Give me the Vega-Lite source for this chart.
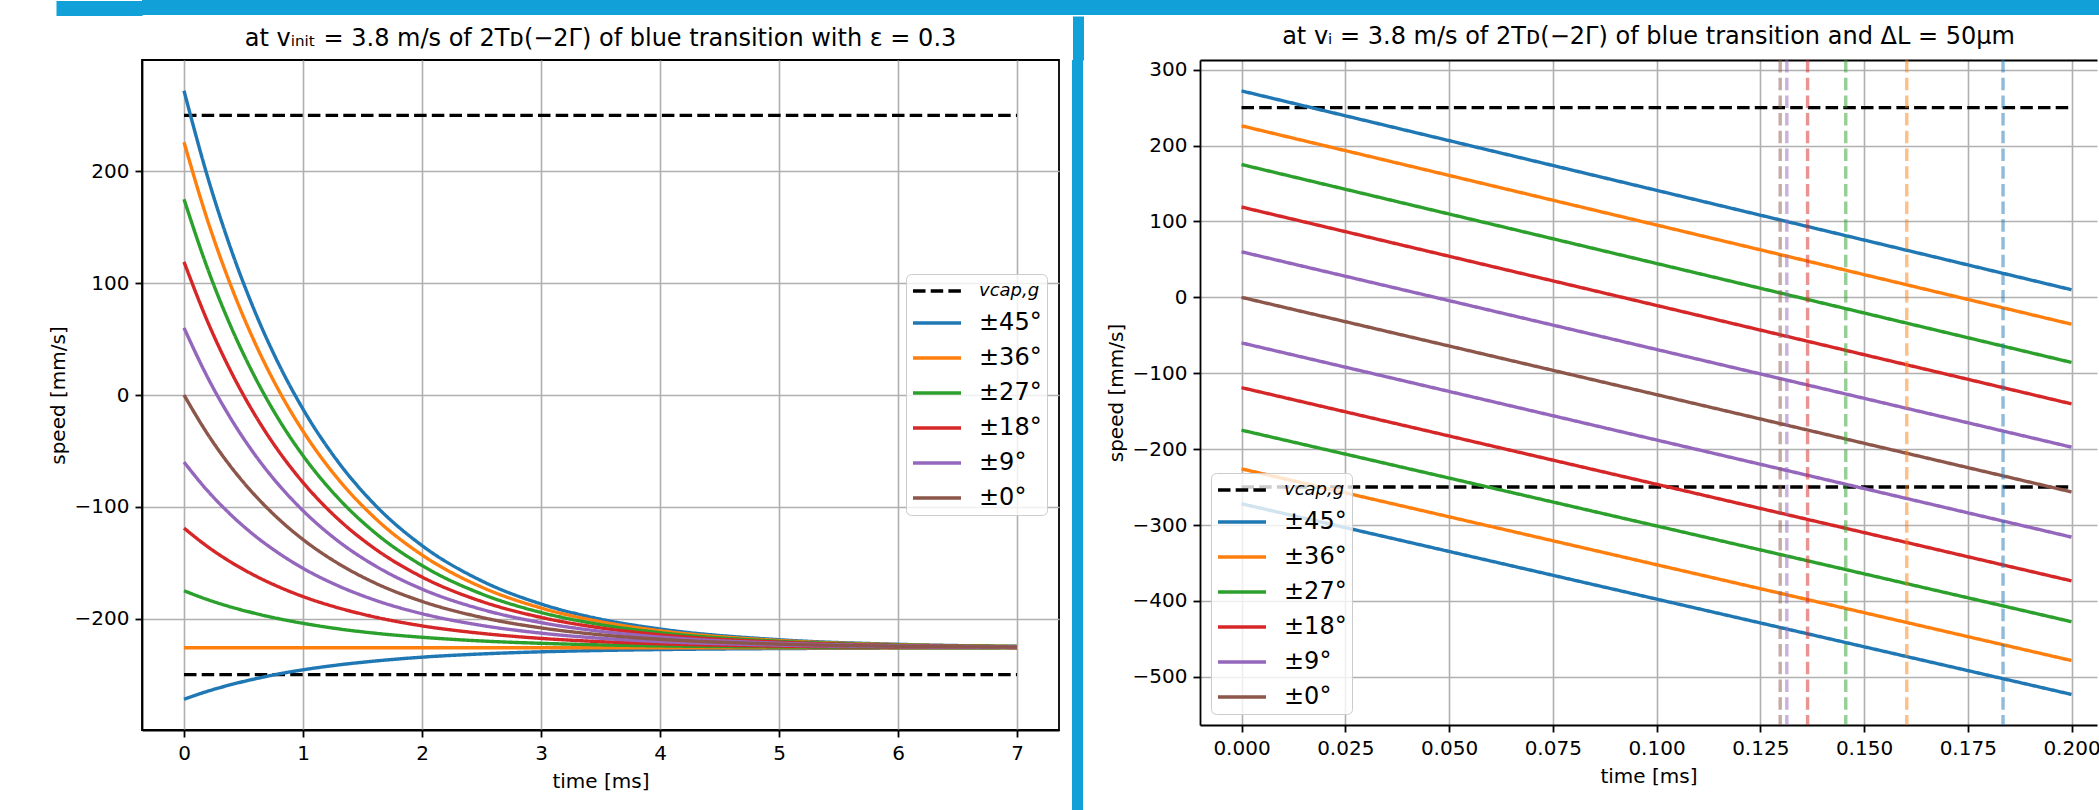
{
  "$schema": "https://vega.github.io/schema/vega-lite/v6.json",
  "background": "white",
  "padding": {"left": 47, "top": 0, "right": 0, "bottom": 0},
  "datasets": {
    "L": [
      {"s":"vcap,g","b":"u","t":0,"v":250},{"s":"vcap,g","b":"u","t":7,"v":250},
      {"s":"vcap,g","b":"l","t":0,"v":-250},{"s":"vcap,g","b":"l","t":7,"v":-250},
      {"s":"±45°","b":"u","t":0,"v":272},{"s":"±45°","b":"u","t":0.2,"v":194.4},{"s":"±45°","b":"u","t":0.4,"v":128.8},{"s":"±45°","b":"u","t":0.6,"v":73.5},{"s":"±45°","b":"u","t":0.8,"v":26.8},{"s":"±45°","b":"u","t":1,"v":-12.6},{"s":"±45°","b":"u","t":1.3,"v":-60.5},{"s":"±45°","b":"u","t":1.6,"v":-97.7},{"s":"±45°","b":"u","t":2,"v":-134.6},{"s":"±45°","b":"u","t":2.5,"v":-166.1},{"s":"±45°","b":"u","t":3,"v":-186.8},{"s":"±45°","b":"u","t":3.5,"v":-200.4},{"s":"±45°","b":"u","t":4,"v":-209.2},{"s":"±45°","b":"u","t":5,"v":-218.8},{"s":"±45°","b":"u","t":6,"v":-222.9},{"s":"±45°","b":"u","t":7,"v":-224.7},
      {"s":"±45°","b":"l","t":0,"v":-272},{"s":"±45°","b":"l","t":0.2,"v":-264.8},{"s":"±45°","b":"l","t":0.4,"v":-258.8},{"s":"±45°","b":"l","t":0.6,"v":-253.7},{"s":"±45°","b":"l","t":0.8,"v":-249.3},{"s":"±45°","b":"l","t":1,"v":-245.7},{"s":"±45°","b":"l","t":1.3,"v":-241.3},{"s":"±45°","b":"l","t":1.6,"v":-237.9},{"s":"±45°","b":"l","t":2,"v":-234.4},{"s":"±45°","b":"l","t":2.5,"v":-231.5},{"s":"±45°","b":"l","t":3,"v":-229.6},{"s":"±45°","b":"l","t":3.5,"v":-228.4},{"s":"±45°","b":"l","t":4,"v":-227.6},{"s":"±45°","b":"l","t":5,"v":-226.7},{"s":"±45°","b":"l","t":6,"v":-226.3},{"s":"±45°","b":"l","t":7,"v":-226.1},
      {"s":"±36°","b":"u","t":0,"v":226},{"s":"±36°","b":"u","t":0.2,"v":155.5},{"s":"±36°","b":"u","t":0.4,"v":96.1},{"s":"±36°","b":"u","t":0.6,"v":45.8},{"s":"±36°","b":"u","t":0.8,"v":3.4},{"s":"±36°","b":"u","t":1,"v":-32.3},{"s":"±36°","b":"u","t":1.3,"v":-75.8},{"s":"±36°","b":"u","t":1.6,"v":-109.5},{"s":"±36°","b":"u","t":2,"v":-143},{"s":"±36°","b":"u","t":2.5,"v":-171.7},{"s":"±36°","b":"u","t":3,"v":-190.4},{"s":"±36°","b":"u","t":3.5,"v":-202.7},{"s":"±36°","b":"u","t":4,"v":-210.8},{"s":"±36°","b":"u","t":5,"v":-219.5},{"s":"±36°","b":"u","t":6,"v":-223.2},{"s":"±36°","b":"u","t":7,"v":-224.8},
      {"s":"±36°","b":"l","t":0,"v":-226},{"s":"±36°","b":"l","t":7,"v":-226},
      {"s":"±27°","b":"u","t":0,"v":175},{"s":"±27°","b":"u","t":0.2,"v":112.5},{"s":"±27°","b":"u","t":0.4,"v":59.7},{"s":"±27°","b":"u","t":0.6,"v":15.2},{"s":"±27°","b":"u","t":0.8,"v":-22.5},{"s":"±27°","b":"u","t":1,"v":-54.2},{"s":"±27°","b":"u","t":1.3,"v":-92.7},{"s":"±27°","b":"u","t":1.6,"v":-122.7},{"s":"±27°","b":"u","t":2,"v":-152.4},{"s":"±27°","b":"u","t":2.5,"v":-177.8},{"s":"±27°","b":"u","t":3,"v":-194.4},{"s":"±27°","b":"u","t":3.5,"v":-205.3},{"s":"±27°","b":"u","t":4,"v":-212.5},{"s":"±27°","b":"u","t":5,"v":-220.2},{"s":"±27°","b":"u","t":6,"v":-223.5},{"s":"±27°","b":"u","t":7,"v":-224.9},
      {"s":"±27°","b":"l","t":0,"v":-175},{"s":"±27°","b":"l","t":0.2,"v":-183},{"s":"±27°","b":"l","t":0.4,"v":-189.7},{"s":"±27°","b":"l","t":0.6,"v":-195.3},{"s":"±27°","b":"l","t":0.8,"v":-200.1},{"s":"±27°","b":"l","t":1,"v":-204.1},{"s":"±27°","b":"l","t":1.3,"v":-209.1},{"s":"±27°","b":"l","t":1.6,"v":-212.9},{"s":"±27°","b":"l","t":2,"v":-216.6},{"s":"±27°","b":"l","t":2.5,"v":-219.9},{"s":"±27°","b":"l","t":3,"v":-222},{"s":"±27°","b":"l","t":3.5,"v":-223.4},{"s":"±27°","b":"l","t":4,"v":-224.3},{"s":"±27°","b":"l","t":5,"v":-225.3},{"s":"±27°","b":"l","t":6,"v":-225.7},{"s":"±27°","b":"l","t":7,"v":-225.9},
      {"s":"±18°","b":"u","t":0,"v":119},{"s":"±18°","b":"u","t":0.2,"v":65.2},{"s":"±18°","b":"u","t":0.4,"v":19.8},{"s":"±18°","b":"u","t":0.6,"v":-18.5},{"s":"±18°","b":"u","t":0.8,"v":-50.9},{"s":"±18°","b":"u","t":1,"v":-78.2},{"s":"±18°","b":"u","t":1.3,"v":-111.4},{"s":"±18°","b":"u","t":1.6,"v":-137.1},{"s":"±18°","b":"u","t":2,"v":-162.7},{"s":"±18°","b":"u","t":2.5,"v":-184.5},{"s":"±18°","b":"u","t":3,"v":-198.8},{"s":"±18°","b":"u","t":3.5,"v":-208.2},{"s":"±18°","b":"u","t":4,"v":-214.4},{"s":"±18°","b":"u","t":5,"v":-221},{"s":"±18°","b":"u","t":6,"v":-223.9},{"s":"±18°","b":"u","t":7,"v":-225.1},
      {"s":"±18°","b":"l","t":0,"v":-119},{"s":"±18°","b":"l","t":0.2,"v":-135.7},{"s":"±18°","b":"l","t":0.4,"v":-149.8},{"s":"±18°","b":"l","t":0.6,"v":-161.7},{"s":"±18°","b":"l","t":0.8,"v":-171.7},{"s":"±18°","b":"l","t":1,"v":-180.2},{"s":"±18°","b":"l","t":1.3,"v":-190.4},{"s":"±18°","b":"l","t":1.6,"v":-198.4},{"s":"±18°","b":"l","t":2,"v":-206.4},{"s":"±18°","b":"l","t":2.5,"v":-213.1},{"s":"±18°","b":"l","t":3,"v":-217.6},{"s":"±18°","b":"l","t":3.5,"v":-220.5},{"s":"±18°","b":"l","t":4,"v":-222.4},{"s":"±18°","b":"l","t":5,"v":-224.5},{"s":"±18°","b":"l","t":6,"v":-225.3},{"s":"±18°","b":"l","t":7,"v":-225.7},
      {"s":"±9°","b":"u","t":0,"v":60},{"s":"±9°","b":"u","t":0.2,"v":15.4},{"s":"±9°","b":"u","t":0.4,"v":-22.2},{"s":"±9°","b":"u","t":0.6,"v":-54},{"s":"±9°","b":"u","t":0.8,"v":-80.8},{"s":"±9°","b":"u","t":1,"v":-103.4},{"s":"±9°","b":"u","t":1.3,"v":-131},{"s":"±9°","b":"u","t":1.6,"v":-152.3},{"s":"±9°","b":"u","t":2,"v":-173.5},{"s":"±9°","b":"u","t":2.5,"v":-191.6},{"s":"±9°","b":"u","t":3,"v":-203.5},{"s":"±9°","b":"u","t":3.5,"v":-211.3},{"s":"±9°","b":"u","t":4,"v":-216.4},{"s":"±9°","b":"u","t":5,"v":-221.9},{"s":"±9°","b":"u","t":6,"v":-224.2},{"s":"±9°","b":"u","t":7,"v":-225.2},
      {"s":"±9°","b":"l","t":0,"v":-60},{"s":"±9°","b":"l","t":0.2,"v":-85.9},{"s":"±9°","b":"l","t":0.4,"v":-107.7},{"s":"±9°","b":"l","t":0.6,"v":-126.2},{"s":"±9°","b":"l","t":0.8,"v":-141.7},{"s":"±9°","b":"l","t":1,"v":-154.9},{"s":"±9°","b":"l","t":1.3,"v":-170.8},{"s":"±9°","b":"l","t":1.6,"v":-183.2},{"s":"±9°","b":"l","t":2,"v":-195.5},{"s":"±9°","b":"l","t":2.5,"v":-206},{"s":"±9°","b":"l","t":3,"v":-212.9},{"s":"±9°","b":"l","t":3.5,"v":-217.5},{"s":"±9°","b":"l","t":4,"v":-220.4},{"s":"±9°","b":"l","t":5,"v":-223.6},{"s":"±9°","b":"l","t":6,"v":-225},{"s":"±9°","b":"l","t":7,"v":-225.6},
      {"s":"±0°","b":"u","t":0,"v":0},{"s":"±0°","b":"u","t":0.2,"v":-35.2},{"s":"±0°","b":"u","t":0.4,"v":-65},{"s":"±0°","b":"u","t":0.6,"v":-90.1},{"s":"±0°","b":"u","t":0.8,"v":-111.3},{"s":"±0°","b":"u","t":1,"v":-129.2},{"s":"±0°","b":"u","t":1.3,"v":-150.9},{"s":"±0°","b":"u","t":1.6,"v":-167.8},{"s":"±0°","b":"u","t":2,"v":-184.5},{"s":"±0°","b":"u","t":2.5,"v":-198.8},{"s":"±0°","b":"u","t":3,"v":-208.2},{"s":"±0°","b":"u","t":3.5,"v":-214.4},{"s":"±0°","b":"u","t":4,"v":-218.4},{"s":"±0°","b":"u","t":5,"v":-222.7},{"s":"±0°","b":"u","t":6,"v":-224.6},{"s":"±0°","b":"u","t":7,"v":-225.4}
    ],
    "R": [
      {"s":"vcap,g","b":"u","t":0,"v":250},{"s":"vcap,g","b":"u","t":0.2,"v":250},
      {"s":"vcap,g","b":"l","t":0,"v":-250},{"s":"vcap,g","b":"l","t":0.2,"v":-250},
      {"s":"±45°","b":"u","t":0,"v":272},{"s":"±45°","b":"u","t":0.2,"v":10},
      {"s":"±45°","b":"l","t":0,"v":-272},{"s":"±45°","b":"l","t":0.2,"v":-523.2},
      {"s":"±36°","b":"u","t":0,"v":226},{"s":"±36°","b":"u","t":0.2,"v":-35.4},
      {"s":"±36°","b":"l","t":0,"v":-226},{"s":"±36°","b":"l","t":0.2,"v":-478.6},
      {"s":"±27°","b":"u","t":0,"v":175},{"s":"±27°","b":"u","t":0.2,"v":-85.8},
      {"s":"±27°","b":"l","t":0,"v":-175},{"s":"±27°","b":"l","t":0.2,"v":-427.4},
      {"s":"±18°","b":"u","t":0,"v":119},{"s":"±18°","b":"u","t":0.2,"v":-140.4},
      {"s":"±18°","b":"l","t":0,"v":-119},{"s":"±18°","b":"l","t":0.2,"v":-373.6},
      {"s":"±9°","b":"u","t":0,"v":60},{"s":"±9°","b":"u","t":0.2,"v":-197.4},
      {"s":"±9°","b":"l","t":0,"v":-60},{"s":"±9°","b":"l","t":0.2,"v":-315.9},
      {"s":"±0°","b":"u","t":0,"v":0},{"s":"±0°","b":"u","t":0.2,"v":-256.4}
    ],
    "RV": [
      {"s":"±45°","t":0.1835},{"s":"±36°","t":0.1603},{"s":"±27°","t":0.1456},
      {"s":"±18°","t":0.1364},{"s":"±9°","t":0.1314},{"s":"±0°","t":0.1298}
    ]
  },
  "resolve": {"scale": {"color": "independent", "strokeDash": "independent", "stroke": "independent"}, "legend": {"color": "independent", "strokeDash": "independent", "stroke": "independent"}},
  "vconcat": [
    {
      "width": 1958, "height": 15, "data": {"values": [{}]},
      "mark": {"type": "point", "opacity": 0},
      "encoding": {"y": {"datum": 0.5, "type": "quantitative", "scale": {"domain": [0, 1]}, "axis": {"values": [0.5], "labels": false, "domain": false, "grid": false, "title": null, "ticks": true, "tickSize": 86, "tickWidth": 15, "tickColor": "#12a0d8", "tickCap": "butt", "labelPadding": 0}}},
      "view": {"fill": "#12a0d8", "stroke": null}
    },
    {
      "resolve": {"scale": {"color": "independent", "strokeDash": "independent", "stroke": "independent"}, "legend": {"color": "independent", "strokeDash": "independent", "stroke": "independent"}},
      "spacing": 12,
      "hconcat": [
        {
          "width": 917, "height": 670,
          "title": {"text": "at vᵢₙᵢₜ = 3.8 m/s of 2Tᴅ(−2Γ) of blue transition with ε = 0.3"},
          "view": {"stroke": "black", "strokeWidth": 1.8},
          "layer": [
            {
              "data": {"name": "L"},
              "transform": [{"filter": "datum.s == 'vcap,g'"}],
              "mark": {"type": "line", "strokeWidth": 3.4},
              "encoding": {
                "x": {"field": "t", "type": "quantitative", "scale": {"domain": [-0.353, 7.353], "nice": false, "zero": false}, "axis": {"values": [0,1,2,3,4,5,6,7], "format": "d", "title": "time [ms]"}},
                "y": {"field": "v", "type": "quantitative", "scale": {"domain": [-299.5, 299.5], "nice": false, "zero": false}, "axis": {"values": [-200,-100,0,100,200], "title": "speed [mm/s]"}},
                "color": {"field": "s", "type": "nominal", "scale": {"domain": ["vcap,g","±45°","±36°","±27°","±18°","±9°","±0°"], "range": ["#000000","#1f77b4","#ff7f0e","#2ca02c","#d62728","#9467bd","#8c564b"]}, "legend": {"orient": "none", "legendX": 764, "legendY": 214, "encode": {"labels": {"update": {"fontStyle": {"signal": "datum.value == 'vcap,g' ? 'italic' : 'normal'"}, "fontSize": {"signal": "datum.value == 'vcap,g' ? 18 : 24"}}}}}},
                "strokeDash": {"field": "s", "type": "nominal", "scale": {"domain": ["vcap,g","±45°","±36°","±27°","±18°","±9°","±0°"], "range": [[12.5,5.2],[1,0],[1,0],[1,0],[1,0],[1,0],[1,0]]}, "legend": {"orient": "none", "legendX": 764, "legendY": 214, "encode": {"labels": {"update": {"fontStyle": {"signal": "datum.value == 'vcap,g' ? 'italic' : 'normal'"}, "fontSize": {"signal": "datum.value == 'vcap,g' ? 18 : 24"}}}}}},
                "detail": {"field": "b"},
                "order": {"field": "t"}
              }
            },
            {
              "data": {"name": "L"},
              "transform": [{"filter": "datum.s != 'vcap,g'"}],
              "mark": {"type": "line", "strokeWidth": 3.4, "interpolate": "monotone"},
              "encoding": {
                "x": {"field": "t", "type": "quantitative"},
                "y": {"field": "v", "type": "quantitative"},
                "color": {"field": "s", "type": "nominal"},
                "strokeDash": {"field": "s", "type": "nominal"},
                "detail": {"field": "b"},
                "order": {"field": "t"}
              }
            }
          ]
        },
        {
          "spacing": 0,
          "hconcat": [
            {
              "width": 11, "height": 751, "data": {"values": [{}]},
              "mark": {"type": "point", "opacity": 0},
              "encoding": {"x": {"datum": 0.5, "type": "quantitative", "scale": {"domain": [0, 1]}, "axis": {"orient": "top", "values": [0.5], "labels": false, "domain": false, "grid": false, "title": null, "ticks": true, "tickSize": 44, "tickWidth": 11, "tickColor": "#12a0d8", "tickCap": "butt", "labelPadding": 0}}},
              "view": {"fill": "#12a0d8", "stroke": null}
            },
            {"width": 10, "height": 751, "data": {"values": [{}]}, "mark": {"type": "point", "opacity": 0}, "encoding": {}, "view": {"fill": null, "stroke": null}}
          ]
        },
        {
          "width": 897, "height": 665,
          "title": {"text": "at vᵢ = 3.8 m/s of 2Tᴅ(−2Γ) of blue transition and ΔL = 50μm"},
          "view": {"stroke": null},
          "resolve": {"axis": {"x": "independent"}},
          "layer": [
            {
              "data": {"name": "R"},
              "transform": [{"filter": "datum.s == 'vcap,g'"}],
              "mark": {"type": "line", "strokeWidth": 3.4},
              "encoding": {
                "x": {"field": "t", "type": "quantitative", "scale": {"domain": [-0.01, 0.20614], "nice": false, "zero": false}, "axis": {"values": [0,0.025,0.05,0.075,0.1,0.125,0.15,0.175,0.2], "format": ".3f", "title": "time [ms]", "orient": "bottom"}},
                "y": {"field": "v", "type": "quantitative", "scale": {"domain": [-563.5, 312.7], "nice": false, "zero": false}, "axis": {"values": [-500,-400,-300,-200,-100,0,100,200,300], "title": "speed [mm/s]"}},
                "color": {"field": "s", "type": "nominal", "scale": {"domain": ["vcap,g","±45°","±36°","±27°","±18°","±9°","±0°"], "range": ["#000000","#1f77b4","#ff7f0e","#2ca02c","#d62728","#9467bd","#8c564b"]}, "legend": {"orient": "bottom-left", "offset": 11, "encode": {"labels": {"update": {"fontStyle": {"signal": "datum.value == 'vcap,g' ? 'italic' : 'normal'"}, "fontSize": {"signal": "datum.value == 'vcap,g' ? 18 : 24"}}}}}},
                "strokeDash": {"field": "s", "type": "nominal", "scale": {"domain": ["vcap,g","±45°","±36°","±27°","±18°","±9°","±0°"], "range": [[12.5,5.2],[1,0],[1,0],[1,0],[1,0],[1,0],[1,0]]}, "legend": {"orient": "bottom-left", "offset": 11, "encode": {"labels": {"update": {"fontStyle": {"signal": "datum.value == 'vcap,g' ? 'italic' : 'normal'"}, "fontSize": {"signal": "datum.value == 'vcap,g' ? 18 : 24"}}}}}},
                "detail": {"field": "b"}
              }
            },
            {
              "data": {"name": "R"},
              "transform": [{"filter": "datum.s != 'vcap,g'"}],
              "mark": {"type": "line", "strokeWidth": 3.4},
              "encoding": {
                "x": {"field": "t", "type": "quantitative", "axis": null},
                "y": {"field": "v", "type": "quantitative"},
                "color": {"field": "s", "type": "nominal"},
                "strokeDash": {"field": "s", "type": "nominal"},
                "detail": {"field": "b"}
              }
            },
            {
              "data": {"name": "RV"},
              "mark": {"type": "rule", "strokeWidth": 3.4, "strokeDash": [12.5, 5.2], "opacity": 0.5},
              "encoding": {
                "x": {"field": "t", "type": "quantitative", "axis": {"orient": "top", "labels": false, "ticks": false, "grid": false, "title": null, "domain": true}},
                "stroke": {"field": "s", "type": "nominal", "scale": {"domain": ["±45°","±36°","±27°","±18°","±9°","±0°"], "range": ["#1f77b4","#ff7f0e","#2ca02c","#d62728","#9467bd","#8c564b"]}, "legend": null}
              }
            }
          ]
        }
      ]
    }
  ],
  "spacing": -6,
  "config": {
    "font": "DejaVu Sans",
    "axis": {"labelFontSize": 20, "labelColor": "black", "labelFont": "DejaVu Sans", "titleFont": "DejaVu Sans", "titleFontSize": 20, "titleFontWeight": "normal", "titleColor": "black", "domainColor": "black", "domainWidth": 1.8, "tickColor": "black", "tickWidth": 1.8, "tickSize": 7, "gridColor": "#b0b0b0", "gridWidth": 1.6, "labelPadding": 6, "titlePadding": 6},
    "axisX": {"labelPadding": 6, "titlePadding": 8},
    "title": {"fontSize": 24, "fontWeight": "normal", "color": "black", "font": "DejaVu Sans", "frame": "group", "anchor": "middle", "baseline": "alphabetic", "offset": 9},
    "legend": {
      "title": null, "symbolType": "M-2.4,0H2.4", "symbolSize": 400, "symbolStrokeWidth": 3.4, "symbolOffset": 14,
      "labelOffset": 30, "labelFontSize": 24, "labelFont": "DejaVu Sans", "labelColor": "black", "rowPadding": 11,
      "padding": 5, "strokeColor": "#cccccc", "fillColor": "rgba(255,255,255,0.8)", "cornerRadius": 5
    }
  }
}
